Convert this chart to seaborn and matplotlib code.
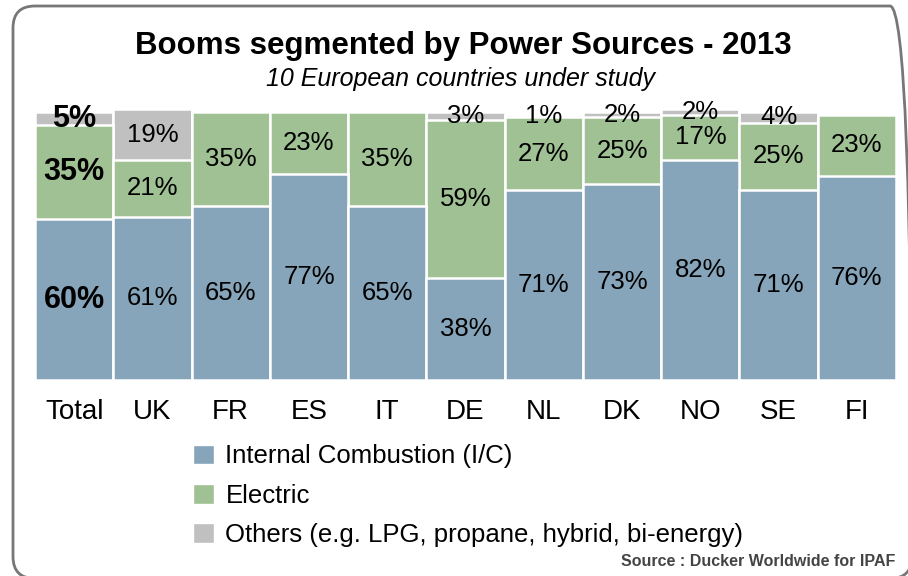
import numpy as np
import pandas as pd
import matplotlib
matplotlib.use("Agg")
import matplotlib.pyplot as plt
import seaborn as sns
from matplotlib.patches import FancyBboxPatch, Patch

# Dados
countries = ['Total', 'UK', 'FR', 'ES', 'IT', 'DE', 'NL', 'DK', 'NO', 'SE', 'FI']
ic = [60, 61, 65, 77, 65, 38, 71, 73, 82, 71, 76]
electric = [35, 21, 35, 23, 35, 59, 27, 25, 17, 25, 23]
others = [5, 19, 0, 0, 0, 3, 1, 2, 2, 4, 0]

series_names = ['Internal Combustion (I/C)', 'Electric',
                'Others (e.g. LPG, propane, hybrid, bi-energy)']
colors = ['#86A5BA', '#A0C193', '#C0C0C0']

sns.set_theme(style='white')
plt.rcParams['font.family'] = ['Liberation Sans', 'DejaVu Sans']
plt.rcParams['text.color'] = 'black'
plt.rcParams['xtick.color'] = 'black'

df = pd.DataFrame({'country': countries, 'ic': ic,
                   'electric': electric, 'others': others})
df['lvl1'] = df['ic']
df['lvl2'] = df['ic'] + df['electric']
df['lvl3'] = df['lvl2'] + df['others']

fig = plt.figure(figsize=(9.08, 5.76), dpi=100)
ax = fig.add_axes([35 / 908, 1 - 380 / 576, 861 / 908, 270.7 / 576])

# barras empilhadas: desenha do topo para a base, sobrepostas
for col, c in zip(['lvl3', 'lvl2', 'lvl1'], colors[::-1]):
    sns.barplot(data=df, x='country', y=col, color=c, width=1.0,
                edgecolor='white', linewidth=1.8, saturation=1, ax=ax)

ax.set_xlim(-0.5, len(countries) - 0.5)
ax.set_ylim(0, 101)
sns.despine(ax=ax, left=True, bottom=True)
ax.set_yticks([])
ax.set_xlabel('')
ax.set_ylabel('')
ax.tick_params(axis='x', length=0, pad=14, labelsize=20, labelcolor='black')

# rotulos de porcentagem
for i, row in df.iterrows():
    segs = [(0, row['ic']), (row['lvl1'], row['electric']), (row['lvl2'], row['others'])]
    for base, v in segs:
        if v <= 0:
            continue
        if i == 0:
            ax.text(i, base + v / 2, f'{v}%', ha='center', va='center',
                    fontsize=22, fontweight='bold', color='black')
        else:
            ax.text(i, base + v / 2, f'{v}%', ha='center', va='center',
                    fontsize=18.5, color='black')

fig.text(463 / 908, 1 - 46 / 576, 'Booms segmented by Power Sources - 2013',
         ha='center', va='center', fontsize=22.5, fontweight='bold')
fig.text(461 / 908, 1 - 79 / 576, '10 European countries under study',
         ha='center', va='center', fontsize=18, fontstyle='italic')

handles = [Patch(facecolor=c, edgecolor='white') for c in colors]
fig.legend(handles, series_names, loc='upper left',
           bbox_to_anchor=(183 / 908, 1 - 434 / 576), frameon=False,
           fontsize=18.5, handlelength=0.8, handleheight=0.8,
           handletextpad=0.45, labelspacing=0.6, borderaxespad=0)

fig.text(895 / 908, 1 - 561 / 576, 'Source : Ducker Worldwide for IPAF',
         ha='right', va='center', fontsize=11.5, fontweight='bold', color='#444444')

# moldura arredondada (coordenadas em pixels, cortada a direita e embaixo)
frame = FancyBboxPatch((13, -2.5), 899, 572.5,
                       boxstyle='round,pad=0,rounding_size=22',
                       transform=None, fill=False,
                       edgecolor='#777777', linewidth=2, clip_on=False)
fig.patches.append(frame)

fig.savefig('out.png', dpi=100)
